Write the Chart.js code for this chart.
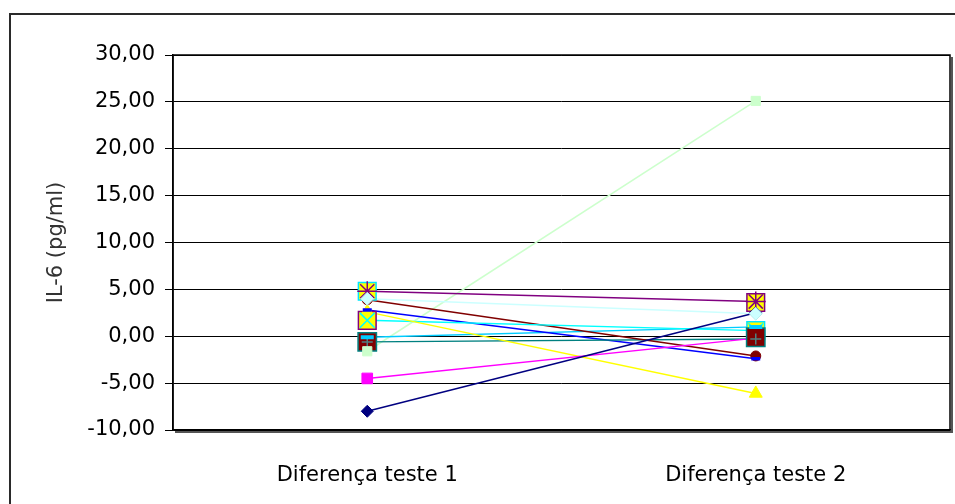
<!DOCTYPE html>
<html>
<head>
<meta charset="utf-8">
<script src="https://cdn.jsdelivr.net/npm/chart.js@4.4.0/dist/chart.umd.min.js"></script>
<style>
  html, body { margin: 0; padding: 0; background: #fff; }
  #wrap { width: 955px; height: 504px; }
</style>
</head>
<body>
<div id="wrap"><canvas id="il6Chart" width="955" height="504"></canvas></div>
<script>
// categorias e valores (pg/ml)
const categories = ['Diferença teste 1', 'Diferença teste 2'];

const navy       = [-8.0, 2.5];
const magenta    = [-4.5, -0.2];
const yellow     = [2.6, -6.1];
const cyan       = [1.7, 0.6];
const purple     = [4.8, 3.7];
const darkRed    = [3.9, -2.1];
const teal       = [-0.6, -0.3];
const blue       = [2.8, -2.4];
const skyBlue    = [-0.1, 1.0];
const turquoise  = [4.0, 2.4];
const lightGreen = [-1.6, 25.1];
const boxA       = [4.8, 0.6];
const boxB       = [1.7, 3.6];
const boxC       = [-0.6, -0.1];

const yMin = -10, yMax = 30, yStep = 5;

// estilo de cada serie (cor da linha, marcador, camada do marcador)
const series = [
  { data: boxA, line: null, marker: 'rect', r: 12.5, fill: '#ffff00', stroke: '#00e5ff', bw: 1.5, layer: 0 },
  { data: boxB, line: null, marker: 'rect', r: 12.5, fill: '#ffff00', stroke: '#800080', bw: 1.5, layer: 1 },
  { data: navy, line: '#000080', marker: 'rectRot', r: 6, fill: '#000080', stroke: '#000080', bw: 1, layer: 2 },
  { data: magenta, line: '#ff00ff', marker: 'rect', r: 7.5, fill: '#ff00ff', stroke: '#ff00ff', bw: 1, layer: 3 },
  { data: yellow, line: '#ffff00', marker: 'triangle', r: 7.5, fill: '#ffff00', stroke: '#ffff00', bw: 1, layer: 4 },
  { data: cyan, line: '#00ffff', marker: 'crossRot', r: 10.5, fill: '#00ffff', stroke: '#00ffff', bw: 1.5, layer: 5 },
  { data: purple, line: '#800080', marker: 'star', r: 10, fill: '#800080', stroke: '#800080', bw: 1.5, layer: 6 },
  { data: darkRed, line: '#800000', marker: 'circle', r: 5, fill: '#800000', stroke: '#800000', bw: 1, layer: 7 },
  { data: boxC, line: null, marker: 'rect', r: 13, fill: '#800000', stroke: '#008080', bw: 1.5, layer: 8 },
  { data: teal, line: '#008080', marker: 'cross', r: 5.5, fill: '#4f8080', stroke: '#4f8080', bw: 1.5, layer: 9 },
  { data: blue, line: '#0000ff', marker: 'line', r: 4.5, fill: '#0000ff', stroke: '#0000ff', bw: 3.5, layer: 10 },
  { data: skyBlue, line: '#00ccff', marker: 'line', r: 6.5, fill: '#00ccff', stroke: '#00ccff', bw: 4, layer: 11 },
  { data: turquoise, line: '#ccffff', marker: 'rectRot', r: 6.5, fill: '#ccffff', stroke: '#b8f0f0', bw: 1, layer: 12 },
  { data: lightGreen, line: '#ccffcc', marker: 'rect', r: 6.5, fill: '#ccffcc', stroke: '#ccffcc', bw: 1, layer: 13 }
];

const datasets = [];
series.forEach(function (s) {
  if (s.line) {
    datasets.push({
      data: s.data,
      borderColor: s.line,
      borderWidth: 1.5,
      pointRadius: 0,
      fill: false,
      tension: 0,
      order: 100
    });
  }
  datasets.push({
    data: s.data,
    showLine: false,
    pointStyle: s.marker,
    pointRadius: s.r,
    pointHoverRadius: s.r,
    pointBackgroundColor: s.fill,
    pointBorderColor: s.stroke,
    pointBorderWidth: s.bw,
    order: 50 - s.layer
  });
});

const frames = {
  id: 'frames',
  beforeDraw(chart) {
    const ctx = chart.ctx;
    ctx.save();
    ctx.fillStyle = '#fff';
    ctx.fillRect(0, 0, chart.width, chart.height);
    ctx.strokeStyle = '#2a2a2a';
    ctx.lineWidth = 2;
    ctx.strokeRect(10, 14, 1000, 600);
    ctx.restore();
  },
  afterDraw(chart) {
    const a = chart.chartArea;
    const ctx = chart.ctx;
    ctx.save();
    ctx.strokeStyle = '#555';
    ctx.lineWidth = 2;
    ctx.beginPath();
    ctx.moveTo(a.right + 2, a.top + 2);
    ctx.lineTo(a.right + 2, a.bottom + 2);
    ctx.lineTo(a.left + 2, a.bottom + 2);
    ctx.stroke();
    ctx.strokeStyle = '#000';
    ctx.lineWidth = 1.5;
    ctx.strokeRect(a.left, a.top, a.right - a.left, a.bottom - a.top);
    ctx.restore();
  }
};

Chart.defaults.font.family = '"DejaVu Sans", Arial, sans-serif';

new Chart(document.getElementById('il6Chart'), {
  type: 'line',
  data: { labels: categories, datasets: datasets },
  options: {
    responsive: false,
    animation: false,
    layout: { autoPadding: false, padding: { top: 55, right: 5, left: 0, bottom: 0 } },
    plugins: { legend: { display: false }, tooltip: { enabled: false } },
    scales: {
      x: {
        offset: true,
        grid: { display: false },
        border: { display: true, color: '#000', width: 1.5 },
        ticks: { color: '#000', font: { size: 21 }, padding: 25 },
        afterFit: function (scale) { scale.height = 74; }
      },
      y: {
        min: yMin,
        max: yMax,
        grid: { color: '#000', lineWidth: 1, tickLength: 8, drawTicks: true },
        border: { display: true, color: '#000', width: 1.5 },
        ticks: {
          stepSize: yStep,
          color: '#000',
          font: { size: 21 },
          padding: 10,
          callback: function (v) { return v.toFixed(2).replace('.', ','); }
        },
        title: {
          display: true,
          text: 'IL-6 (pg/ml)',
          color: '#333',
          font: { size: 21 },
          padding: { top: 44, bottom: 0 }
        },
        afterFit: function (scale) { scale.width = 173; }
      }
    }
  },
  plugins: [frames]
});
</script>
</body>
</html>
